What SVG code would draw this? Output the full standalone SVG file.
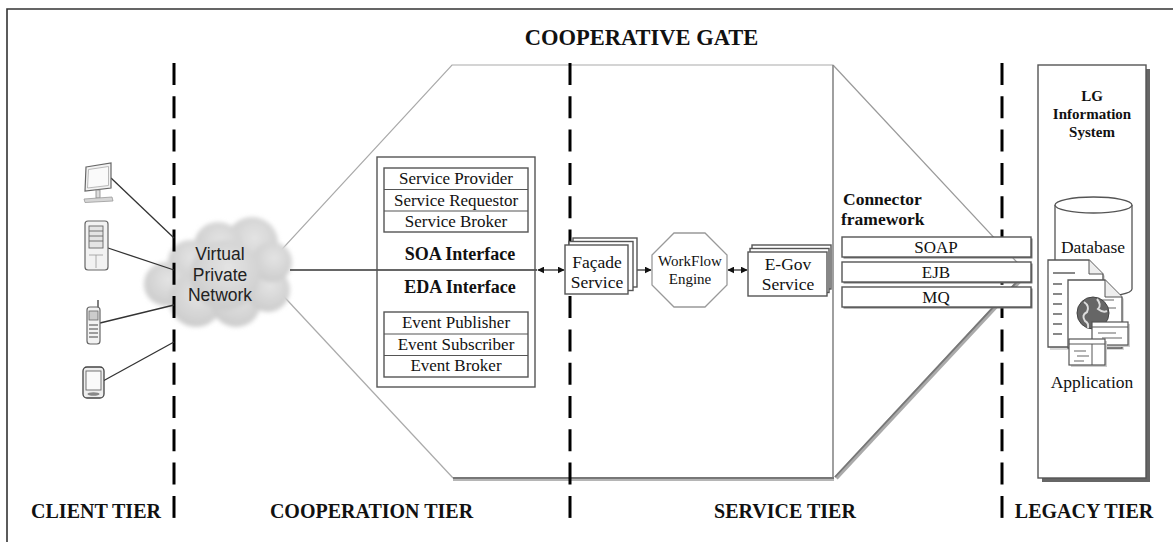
<svg xmlns="http://www.w3.org/2000/svg" width="1173" height="542" viewBox="0 0 1173 542">
  <style>
    .serif { font-family: "Liberation Serif", "Times New Roman", serif; fill: #111; }
    .sans { font-family: "Liberation Sans", Arial, sans-serif; fill: #222; }
    .tier { font-size: 20px; font-weight: bold; text-anchor: middle; }
    .item { font-size: 17px; text-anchor: middle; }
    .bold17 { font-size: 17.5px; font-weight: bold; }
    .box { fill: #fff; stroke: #555; stroke-width: 1.4; }
    .divider { stroke: #000; stroke-width: 3; stroke-dasharray: 22 11.3; fill: none; }
    .thin-gray { stroke: #aaa; stroke-width: 1.2; fill: none; }
    .link { stroke: #333; stroke-width: 1.3; fill: none; }
    .icon { fill: #f2f2f2; stroke: #666; stroke-width: 1.2; }
  </style>
  <defs>
    <marker id="arrow" viewBox="0 0 10 10" refX="9" refY="5" markerWidth="7" markerHeight="7" orient="auto-start-reverse" markerUnits="userSpaceOnUse">
      <path d="M0,0 L10,5 L0,10 z" fill="#111"/>
    </marker>
    <filter id="soft" x="-20%" y="-20%" width="140%" height="140%">
      <feGaussianBlur stdDeviation="2.2"/>
    </filter>
    <radialGradient id="cloudFill" cx="0.55" cy="0.4" r="0.7">
      <stop offset="0" stop-color="#e4e4e4"/>
      <stop offset="1" stop-color="#c8c8c8"/>
    </radialGradient>
  </defs>

  <rect width="1173" height="542" fill="#fff"/>
  <!-- outer frame -->
  <path d="M7,542 V9 H1173" fill="none" stroke="#333" stroke-width="1.6"/>

  <!-- gate outline -->
  <g id="gate-outline">
    <path class="thin-gray" d="M261,272 L452,65 L833,65"/>
    <path d="M833,65 L1027,273" stroke="#999" stroke-width="1.2" fill="none"/>
    <path d="M833,65 V478" stroke="#888" stroke-width="1.6" fill="none"/>
    <path class="thin-gray" d="M261,272 L453,478"/>
    <path d="M453,479 H834" stroke="#b5b5b5" stroke-width="4" fill="none"/>
    <path d="M453,478 H834" stroke="#777" stroke-width="2" fill="none"/>
    <path d="M836,478 L1027,273" stroke="#aaa" stroke-width="4.5" fill="none"/>
    <path d="M835,477 L1026,272" stroke="#777" stroke-width="1.8" fill="none"/>
  </g>

  <!-- VPN cloud -->
  <g id="vpn-cloud">
    <g filter="url(#soft)" fill="url(#cloudFill)">
      <circle cx="252" cy="243" r="26"/>
      <circle cx="218" cy="246" r="24"/>
      <circle cx="190" cy="262" r="22"/>
      <circle cx="166" cy="284" r="22"/>
      <circle cx="196" cy="300" r="27"/>
      <circle cx="236" cy="302" r="25"/>
      <circle cx="268" cy="290" r="22"/>
      <circle cx="272" cy="262" r="20"/>
      <circle cx="225" cy="275" r="35"/>
    </g>
    <text class="sans" font-size="17.5" text-anchor="middle" x="220" y="260">Virtual</text>
    <text class="sans" font-size="17.5" text-anchor="middle" x="220" y="281">Private</text>
    <text class="sans" font-size="17.5" text-anchor="middle" x="220" y="301">Network</text>
  </g>

  <!-- tier dividers -->
  <g id="dividers">
    <line class="divider" x1="174" y1="63" x2="174" y2="519"/>
    <line class="divider" x1="570" y1="63" x2="570" y2="519"/>
    <line class="divider" x1="1002" y1="63" x2="1002" y2="519"/>
  </g>

  <text class="serif" x="641.5" y="45" font-size="22.5" font-weight="bold" text-anchor="middle">COOPERATIVE GATE</text>

  <!-- connectors -->
  <g id="connectors">
    <line class="link" x1="111" y1="178" x2="174" y2="238"/>
    <line class="link" x1="105" y1="247" x2="174" y2="270"/>
    <line class="link" x1="100" y1="323" x2="174" y2="305"/>
    <line class="link" x1="103" y1="381" x2="174" y2="342"/>
    <line class="link" x1="290" y1="270" x2="537" y2="270"/>
    <line class="link" x1="538" y1="270" x2="564" y2="270" marker-start="url(#arrow)" marker-end="url(#arrow)"/>
    <line class="link" x1="629" y1="270" x2="651" y2="270" marker-start="url(#arrow)" marker-end="url(#arrow)"/>
    <line class="link" x1="728" y1="270" x2="747" y2="270" marker-start="url(#arrow)" marker-end="url(#arrow)"/>
  </g>

  <!-- client devices -->
  <g id="device-pc">
    <polygon class="icon" points="86,167 111,163 111,188 85,191"/>
    <polygon points="88.5,169.5 108.5,166.5 108.5,185.5 87.5,188" fill="#fafafa" stroke="#aaa" stroke-width="0.8"/>
    <rect x="96" y="190" width="4" height="8" fill="#ddd" stroke="#888" stroke-width="0.8"/>
    <polygon points="84,199 112,197 113,201 85,202.5" fill="#d6d6d6" stroke="#999" stroke-width="0.8"/>
  </g>
  <g id="device-server">
    <rect class="icon" x="85" y="221" width="23" height="49" rx="3"/>
    <rect x="89" y="226" width="14" height="22" fill="#e4e4e4" stroke="#666" stroke-width="0.9"/>
    <line x1="89" y1="231" x2="103" y2="231" stroke="#666" stroke-width="0.9"/>
    <line x1="89" y1="236" x2="103" y2="236" stroke="#666" stroke-width="0.9"/>
    <line x1="89" y1="241" x2="103" y2="241" stroke="#666" stroke-width="0.9"/>
    <line x1="89" y1="255" x2="103" y2="255" stroke="#999" stroke-width="0.8"/>
    <line x1="96" y1="255" x2="96" y2="268" stroke="#999" stroke-width="0.8"/>
  </g>
  <g id="device-phone">
    <line x1="98" y1="300" x2="98" y2="309" stroke="#555" stroke-width="1.5"/>
    <rect class="icon" x="87" y="307" width="13" height="37" rx="3"/>
    <rect x="89" y="311" width="9" height="9" fill="#ccc" stroke="#666" stroke-width="0.8"/>
    <line x1="89" y1="325" x2="98" y2="325" stroke="#777" stroke-width="1.4"/>
    <line x1="89" y1="329" x2="98" y2="329" stroke="#777" stroke-width="1.4"/>
    <line x1="89" y1="333" x2="98" y2="333" stroke="#777" stroke-width="1.4"/>
    <line x1="89" y1="337" x2="98" y2="337" stroke="#777" stroke-width="1.4"/>
  </g>
  <g id="device-pda">
    <rect x="83" y="367" width="21" height="31" rx="4" fill="#eee" stroke="#444" stroke-width="1.3"/>
    <rect x="86" y="371" width="15" height="19" fill="#fafafa" stroke="#666" stroke-width="0.9"/>
    <ellipse cx="93.5" cy="394" rx="6" ry="1.8" fill="#888"/>
  </g>

  <!-- cooperation tier interfaces (box sits under the request line) -->
  <g id="interfaces">
    <rect class="box" x="377" y="157" width="158" height="230" fill-opacity="0"/>
    <rect class="box" x="384" y="168" width="144" height="64"/>
    <line x1="384" y1="189.5" x2="528" y2="189.5" stroke="#555" stroke-width="1.2"/>
    <line x1="384" y1="211" x2="528" y2="211" stroke="#555" stroke-width="1.2"/>
    <text class="serif item" x="456" y="184">Service Provider</text>
    <text class="serif item" x="456" y="206">Service Requestor</text>
    <text class="serif item" x="456" y="227">Service Broker</text>
    <text class="serif" x="460" y="260" font-size="18" font-weight="bold" text-anchor="middle">SOA Interface</text>
    <text class="serif" x="460" y="293" font-size="18" font-weight="bold" text-anchor="middle">EDA Interface</text>
    <rect class="box" x="384" y="312" width="144" height="65"/>
    <line x1="384" y1="334" x2="528" y2="334" stroke="#555" stroke-width="1.2"/>
    <line x1="384" y1="355.5" x2="528" y2="355.5" stroke="#555" stroke-width="1.2"/>
    <text class="serif item" x="456" y="328">Event Publisher</text>
    <text class="serif item" x="456" y="350">Event Subscriber</text>
    <text class="serif item" x="456" y="371">Event Broker</text>
  </g>

  <!-- facade service -->
  <g id="facade-service">
    <rect class="box" x="573" y="238" width="64" height="49"/>
    <rect class="box" x="569" y="241.5" width="64" height="49"/>
    <rect class="box" x="565" y="245" width="63" height="49"/>
    <text class="serif" font-size="17.5" text-anchor="middle" x="597" y="268">Façade</text>
    <text class="serif" font-size="17.5" text-anchor="middle" x="597" y="288">Service</text>
  </g>

  <!-- workflow engine -->
  <g id="workflow-engine">
    <polygon points="674,233 705,233 727,255 727,285 705,307 674,307 652,285 652,255" fill="#fff" stroke="#999" stroke-width="1.3"/>
    <text class="serif" font-size="15" text-anchor="middle" x="690" y="266">WorkFlow</text>
    <text class="serif" font-size="15" text-anchor="middle" x="690" y="284">Engine</text>
  </g>

  <!-- e-gov service -->
  <g id="egov-service">
    <rect class="box" x="752" y="245" width="79" height="44"/>
    <rect class="box" x="750" y="248.5" width="79" height="44"/>
    <rect class="box" x="748" y="252" width="79" height="44"/>
    <text class="serif" font-size="17.5" text-anchor="middle" x="788" y="270">E-Gov</text>
    <text class="serif" font-size="17.5" text-anchor="middle" x="788" y="290">Service</text>
  </g>

  <!-- connector framework -->
  <g id="connector-framework">
    <text class="serif bold17" x="843" y="205">Connector</text>
    <text class="serif bold17" x="841" y="225">framework</text>
    <rect x="843.5" y="238.5" width="189" height="20" fill="#777"/>
    <rect class="box" x="842" y="237" width="189" height="20"/>
    <rect x="843.5" y="263.5" width="189" height="20" fill="#777"/>
    <rect class="box" x="842" y="262" width="189" height="20"/>
    <rect x="843.5" y="288.5" width="189" height="20" fill="#777"/>
    <rect class="box" x="842" y="287" width="189" height="20"/>
    <text class="serif" font-size="17" text-anchor="middle" x="936" y="253">SOAP</text>
    <text class="serif" font-size="17" text-anchor="middle" x="936" y="278">EJB</text>
    <text class="serif" font-size="17" text-anchor="middle" x="936" y="303">MQ</text>
  </g>

  <!-- legacy information system -->
  <g id="lg-information-system">
    <rect x="1042" y="69" width="108" height="413" fill="#666"/>
    <rect class="box" x="1038" y="65" width="108" height="413"/>
    <text class="serif" font-size="15" font-weight="bold" text-anchor="middle" x="1092" y="101">LG</text>
    <text class="serif" font-size="15" font-weight="bold" text-anchor="middle" x="1092" y="119">Information</text>
    <text class="serif" font-size="15" font-weight="bold" text-anchor="middle" x="1092" y="137">System</text>
  </g>

  <g id="database">
    <path d="M1055,205 V289 A38.5,8 0 0 0 1132,289 V205" fill="#fff" stroke="#555" stroke-width="1.3"/>
    <ellipse cx="1093.5" cy="205" rx="38.5" ry="8" fill="#fff" stroke="#555" stroke-width="1.3"/>
    <text class="serif" font-size="17.5" text-anchor="middle" x="1093" y="253">Database</text>
  </g>

  <g id="application">
    <!-- back document -->
    <path d="M1050,262 H1091 L1105,276 V350 H1050 Z" fill="#d8d8d8"/>
    <path d="M1048,260 H1089 L1103,274 V347 H1048 Z" fill="#fff" stroke="#555" stroke-width="1.3"/>
    <path d="M1089,260 V274 H1103" fill="#eee" stroke="#555" stroke-width="1"/>
    <g stroke="#888" stroke-width="2">
      <line x1="1053" y1="273" x2="1075" y2="273"/>
      <line x1="1053" y1="284" x2="1062" y2="284"/>
      <line x1="1053" y1="294" x2="1062" y2="294"/>
      <line x1="1053" y1="304" x2="1062" y2="304"/>
      <line x1="1053" y1="314" x2="1062" y2="314"/>
      <line x1="1053" y1="324" x2="1062" y2="324"/>
      <line x1="1053" y1="334" x2="1062" y2="334"/>
    </g>
    <!-- front document -->
    <path d="M1070,282 H1107 L1124,299 V350 H1070 Z" fill="#d8d8d8"/>
    <path d="M1068,280 H1105 L1122,297 V348 H1068 Z" fill="#fff" stroke="#555" stroke-width="1.3"/>
    <path d="M1105,280 V297 H1122" fill="#eee" stroke="#555" stroke-width="1"/>
    <g stroke="#999" stroke-width="1.5">
      <line x1="1096" y1="300" x2="1114" y2="300"/>
      <line x1="1100" y1="308" x2="1116" y2="308"/>
    </g>
    <circle cx="1093" cy="313" r="16" fill="#666" stroke="#444" stroke-width="1"/>
    <path d="M1084,302 q6,4 3,10 q-6,3 -2,9 q4,2 3,7 M1097,299 q5,6 1,10 q5,4 9,2" fill="none" stroke="#ddd" stroke-width="2"/>
    <!-- windows -->
    <rect x="1094" y="324" width="36" height="23" fill="#ccc"/>
    <rect x="1092" y="322" width="36" height="23" fill="#fff" stroke="#555" stroke-width="1.2"/>
    <line x1="1092" y1="327" x2="1128" y2="327" stroke="#555" stroke-width="1"/>
    <line x1="1098" y1="333" x2="1116" y2="333" stroke="#888" stroke-width="1.3"/>
    <line x1="1102" y1="338" x2="1122" y2="338" stroke="#888" stroke-width="1.3"/>
    <rect x="1071" y="341" width="36" height="26" fill="#ccc"/>
    <rect x="1069" y="339" width="36" height="26" fill="#fff" stroke="#555" stroke-width="1.2"/>
    <line x1="1069" y1="344" x2="1105" y2="344" stroke="#555" stroke-width="1"/>
    <line x1="1092" y1="344" x2="1092" y2="365" stroke="#555" stroke-width="1"/>
    <line x1="1074" y1="351" x2="1086" y2="351" stroke="#888" stroke-width="1.3"/>
    <line x1="1077" y1="356" x2="1089" y2="356" stroke="#888" stroke-width="1.3"/>
    <line x1="1074" y1="361" x2="1084" y2="361" stroke="#888" stroke-width="1.3"/>
    <text class="serif" font-size="17.5" text-anchor="middle" x="1092" y="388">Application</text>
  </g>

  <!-- tier labels -->
  <g id="tier-labels">
    <text class="serif tier" x="96" y="518">CLIENT TIER</text>
    <text class="serif tier" x="371.5" y="518">COOPERATION TIER</text>
    <text class="serif tier" x="785" y="518">SERVICE TIER</text>
    <text class="serif tier" x="1084" y="518">LEGACY TIER</text>
  </g>
</svg>
